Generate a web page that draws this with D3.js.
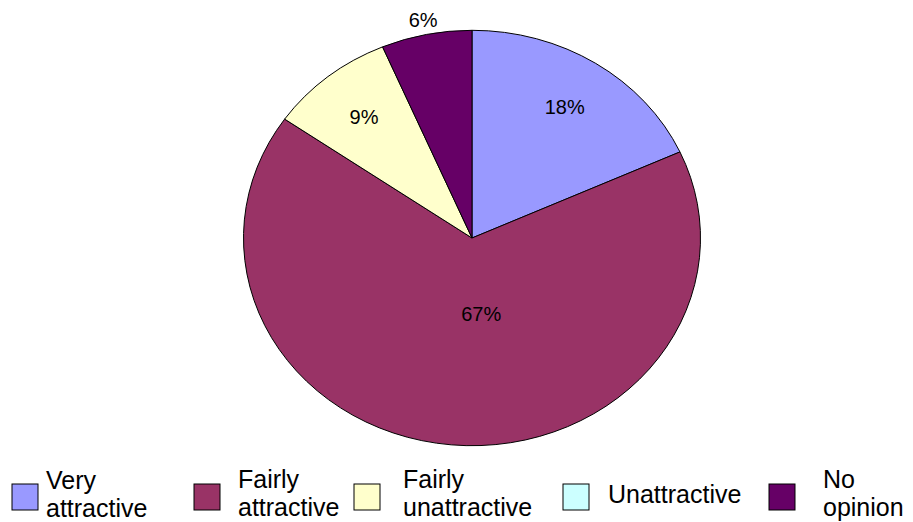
<!DOCTYPE html>
<html>
<head>
<meta charset="utf-8">
<script src="https://cdn.jsdelivr.net/npm/d3@7"></script>
<style>
  body { margin: 0; background: #fff; }
  text { font-family: Arial, "Liberation Sans", sans-serif; fill: #000; }
</style>
</head>
<body>
<div id="chart"></div>
<script>
// chart data
var categories = ["Very attractive", "Fairly attractive", "Fairly unattractive", "Unattractive", "No opinion"];
var shares = [18.2, 66.5, 8.9, 0, 6.4];
var pctLabels = ["18%", "67%", "9%", "", "6%"];
var colors = ["#9999FF", "#993366", "#FFFFCC", "#CCFFFF", "#660066"];
// legend text split in lines
var legendLines = [["Very", "attractive"], ["Fairly", "attractive"], ["Fairly", "unattractive"], ["Unattractive"], ["No", "opinion"]];

var width = 913, height = 522;
var cx = 472, cy = 238, rx = 228.5, ry = 207.7;

var svg = d3.select("#chart").append("svg")
    .attr("width", width)
    .attr("height", height);

var pie = d3.pie().sort(null).value(function(d){ return d; });
var arcs = pie(shares);

var arc = d3.arc().innerRadius(0).outerRadius(ry);

// pie is slightly wider than tall -> scale x
var pieG = svg.append("g")
    .attr("transform", "translate(" + cx + "," + cy + ") scale(" + (rx / ry) + ",1)");

pieG.selectAll(".slice")
    .data(arcs.filter(function(d){ return d.value > 0; }))
  .enter().append("path")
    .attr("class", "slice")
    .attr("d", arc)
    .attr("fill", function(d){ return colors[d.index]; })
    .attr("stroke", "#000")
    .attr("stroke-width", 1)
    .attr("vector-effect", "non-scaling-stroke");

// labels: inside at ~0.75 r, small slices outside, the big one nearer the middle
function labelPos(d){
  var frac = 0.75;
  if (d.value < 7) frac = 1.07;
  if (d.value > 50) frac = 0.37;
  var a = (d.startAngle + d.endAngle) / 2;
  if (d.value > 50) a = a - 0.2;
  return [cx + Math.sin(a) * rx * frac, cy - Math.cos(a) * ry * frac];
}

svg.selectAll(".pct")
    .data(arcs.filter(function(d){ return d.value > 0; }))
  .enter().append("text")
    .attr("class", "pct")
    .attr("x", function(d){ return labelPos(d)[0]; })
    .attr("y", function(d){ return labelPos(d)[1]; })
    .attr("dy", "0.35em")
    .attr("text-anchor", "middle")
    .style("font-size", "20px")
    .text(function(d){ return pctLabels[d.index]; });

// legend
var boxX = [12, 194, 354, 563, 769];
var textX = [46, 238, 403, 608, 823];
var boxSize = 26, boxY = 484;

var leg = svg.selectAll(".legend")
    .data(categories)
  .enter().append("g")
    .attr("class", "legend");

leg.append("rect")
    .attr("x", function(d, i){ return boxX[i]; })
    .attr("y", boxY)
    .attr("width", boxSize)
    .attr("height", boxSize)
    .attr("fill", function(d, i){ return colors[i]; })
    .attr("stroke", "#000")
    .attr("stroke-width", 1);

leg.each(function(d, i){
  var lines = legendLines[i];
  var t = d3.select(this).append("text")
      .attr("x", textX[i])
      .style("font-size", "25px");
  var y0 = lines.length == 1 ? 503 : (i == 0 ? 489 : 488);
  lines.forEach(function(l, j){
    t.append("tspan")
      .attr("x", textX[i])
      .attr("y", y0 + j * 28)
      .text(l);
  });
});
</script>
</body>
</html>
